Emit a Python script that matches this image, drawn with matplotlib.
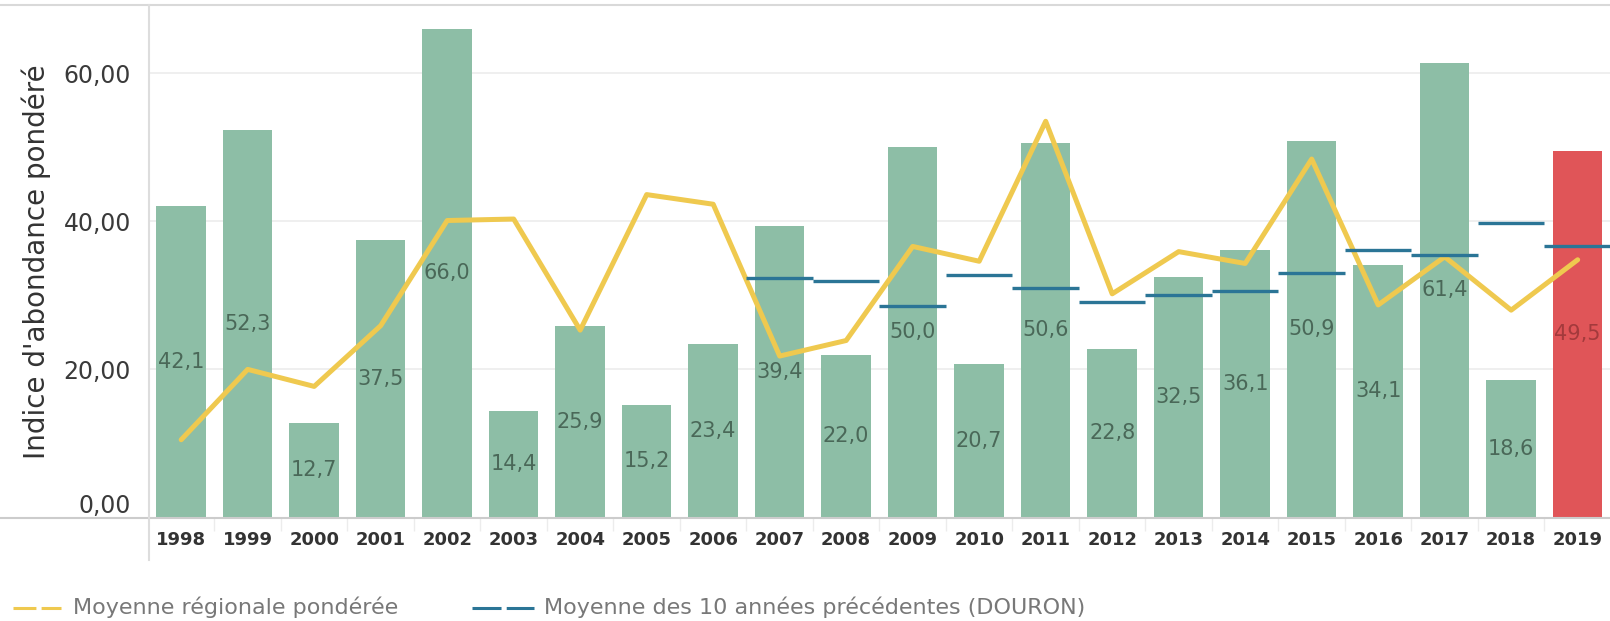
import matplotlib
matplotlib.use('Agg')
import matplotlib.pyplot as plt
from matplotlib.lines import Line2D

# data
years = ['1998', '1999', '2000', '2001', '2002', '2003', '2004', '2005', '2006', '2007', '2008',
         '2009', '2010', '2011', '2012', '2013', '2014', '2015', '2016', '2017', '2018', '2019']
indice = [42.1, 52.3, 12.7, 37.5, 66.0, 14.4, 25.9, 15.2, 23.4, 39.4, 22.0,
          50.0, 20.7, 50.6, 22.8, 32.5, 36.1, 50.9, 34.1, 61.4, 18.6, 49.5]
moy_regionale = [10.5, 20.0, 17.7, 25.9, 40.1, 40.3, 25.3, 43.6, 42.3, 21.8, 23.9,
                 36.6, 34.6, 53.5, 30.2, 35.9, 34.3, 48.4, 28.7, 35.2, 28.0, 34.8]
# 10-year mean only exists from 2007 on
moy_10ans_years = ['2007', '2008', '2009', '2010', '2011', '2012', '2013',
                   '2014', '2015', '2016', '2017', '2018', '2019']
moy_10ans = [32.3, 32.0, 28.5, 32.8, 31.0, 29.1, 30.1, 30.6, 33.0, 36.1, 35.4, 39.8, 36.6]
y_ticks = [0, 20, 40, 60]

GREEN = '#8dbea6'
RED = '#e05558'
YELLOW = '#efc94f'
BLUE = '#2b7596'

W, H = 1610, 621
fig = plt.figure(figsize=(W / 100, H / 100), dpi=100)
ax = fig.add_axes([149 / W, (H - 517.5) / H, (W - 149) / W, (517.5 - 5) / H])

x = list(range(len(years)))
colors = [RED if y == '2019' else GREEN for y in years]
ax.bar(x, indice, width=0.745, color=colors, zorder=2)

# yellow regional mean
ax.plot(x, moy_regionale, color=YELLOW, lw=3.6, solid_joinstyle='round',
        solid_capstyle='round', zorder=3)

# blue 10-year mean, one flat dash per year
xm = [years.index(y) for y in moy_10ans_years]
ax.hlines(moy_10ans, [i - 0.5 for i in xm], [i + 0.5 for i in xm], color=BLUE, lw=2.4, zorder=4)

# value labels in the middle of each bar
for i, v in enumerate(indice):
    c = '#a33a3c' if years[i] == '2019' else '#4a6858'
    ax.text(i, v / 2, f'{v:.1f}'.replace('.', ','), ha='center', va='center',
            fontsize=15, color=c, zorder=5)

ax.set_xlim(-0.484, 21.486)
ax.set_ylim(0, 69.2)
ax.set_yticks(y_ticks)
ax.set_yticklabels([f'{t:.2f}'.replace('.', ',') for t in y_ticks])
ax.set_xticks(x)
ax.set_xticklabels(years)
ax.set_xticks([i + 0.5 for i in x[:-1]], minor=True)
ax.tick_params(axis='x', which='major', length=0, pad=10, labelsize=13, labelcolor='#333333')
ax.tick_params(axis='x', which='minor', length=9, color='#ececec', width=1)
for lab in ax.get_xticklabels():
    lab.set_fontweight('bold')
ax.tick_params(axis='y', length=0, pad=13, labelsize=17, labelcolor='#3a3a3a')
ax.get_yticklabels()[0].set_va('bottom')
ax.grid(axis='y', color='#ececec', lw=1.2, zorder=0)
ax.set_axisbelow(True)
for s in ax.spines.values():
    s.set_visible(False)

# frame lines (top, x-axis, y-axis)
fig.add_artist(Line2D([0, 1], [1 - 5 / H, 1 - 5 / H], color='#d9d9d9', lw=1.5))
fig.add_artist(Line2D([0, 1], [1 - 517.5 / H, 1 - 517.5 / H], color='#cccccc', lw=1.5))
fig.add_artist(Line2D([149 / W, 149 / W], [1 - 5 / H, 1 - 560 / H], color='#dddddd', lw=1.5))

fig.text(36 / W, 1 - 262 / H, "Indice d'abondance pondéré", rotation=90, ha='center',
         va='center', fontsize=20, color='#333333')

# legend
fig.add_artist(Line2D([12.5 / W, 61 / W], [1 - 608 / H, 1 - 608 / H], color=YELLOW, lw=2.2,
                      dashes=(7.5, 1.7), dash_capstyle='butt'))
fig.text(73 / W, 7 / H, 'Moyenne régionale pondérée', fontsize=16, color='#787878', va='baseline')
fig.add_artist(Line2D([472 / W, 534 / W], [1 - 608 / H, 1 - 608 / H], color=BLUE, lw=2.2,
                      dashes=(9.5, 1.7), dash_capstyle='butt'))
fig.text(544 / W, 7 / H, 'Moyenne des 10 années précédentes (DOURON)', fontsize=16,
         color='#787878', va='baseline')

fig.savefig('out.png', dpi=100)
